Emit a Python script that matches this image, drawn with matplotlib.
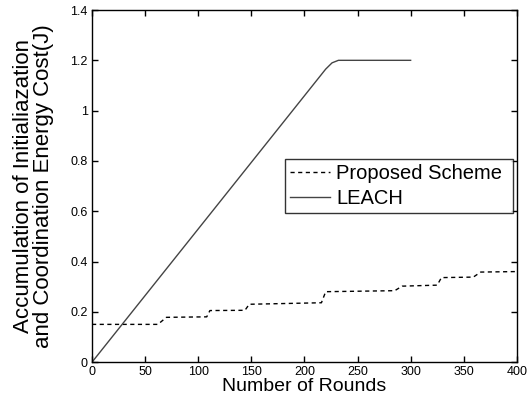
import matplotlib
matplotlib.use("Agg")
import matplotlib.pyplot as plt

plt.rcParams['font.family'] = ['Liberation Sans', 'DejaVu Sans']

# values
rounds_prop = [0, 62, 70, 108, 111, 144, 148, 216, 220, 285, 292, 325, 329, 359, 366, 400]
cost_prop = [0.15, 0.15, 0.178, 0.18, 0.205, 0.206, 0.23, 0.236, 0.28, 0.284,
             0.302, 0.306, 0.336, 0.338, 0.358, 0.36]

rounds_leach = [0, 220, 226, 232, 300]
cost_leach = [0, 1.165, 1.19, 1.2, 1.2]

xticks = [0, 50, 100, 150, 200, 250, 300, 350, 400]
yticks = [0, 0.2, 0.4, 0.6, 0.8, 1.0, 1.2, 1.4]
ytick_labels = ['0', '0.2', '0.4', '0.6', '0.8', '1', '1.2', '1.4']

fig = plt.figure(figsize=(5.29, 4.01), dpi=100)
ax = fig.add_axes([0.174, 0.097, 0.803, 0.878])

ax.plot(rounds_prop, cost_prop, color='black', linestyle='--', linewidth=1.0,
        dashes=(3, 2.5), label='Proposed Scheme')
ax.plot(rounds_leach, cost_leach, color='#444444', linestyle='-', linewidth=1.0,
        label='LEACH')

ax.set_xlim(0, 400)
ax.set_ylim(0, 1.4)
ax.set_xticks(xticks)
ax.set_yticks(yticks)
ax.set_yticklabels(ytick_labels)
ax.tick_params(direction='in', top=True, right=True, labelsize=9, length=4,
               width=1, pad=3)
for sp in ax.spines.values():
    sp.set_linewidth(1.0)

ax.set_xlabel('Number of Rounds', fontsize=14, labelpad=0)
ax.set_ylabel('Accumulation of Initialiazation\nand Coordination Energy Cost(J)',
              fontsize=16, linespacing=0.9)
ax.yaxis.set_label_coords(-0.09, 0.5)

leg = ax.legend(loc='upper left', bbox_to_anchor=(0.454, 0.426, 0.536, 0.151),
                mode='expand', fontsize=14.5, frameon=True, fancybox=False,
                borderaxespad=0, handlelength=2.0, handletextpad=0.3,
                labelspacing=0.3, borderpad=0.25)
leg.get_frame().set_edgecolor('black')
leg.get_frame().set_linewidth(1.0)

fig.savefig('out.png', dpi=100)
